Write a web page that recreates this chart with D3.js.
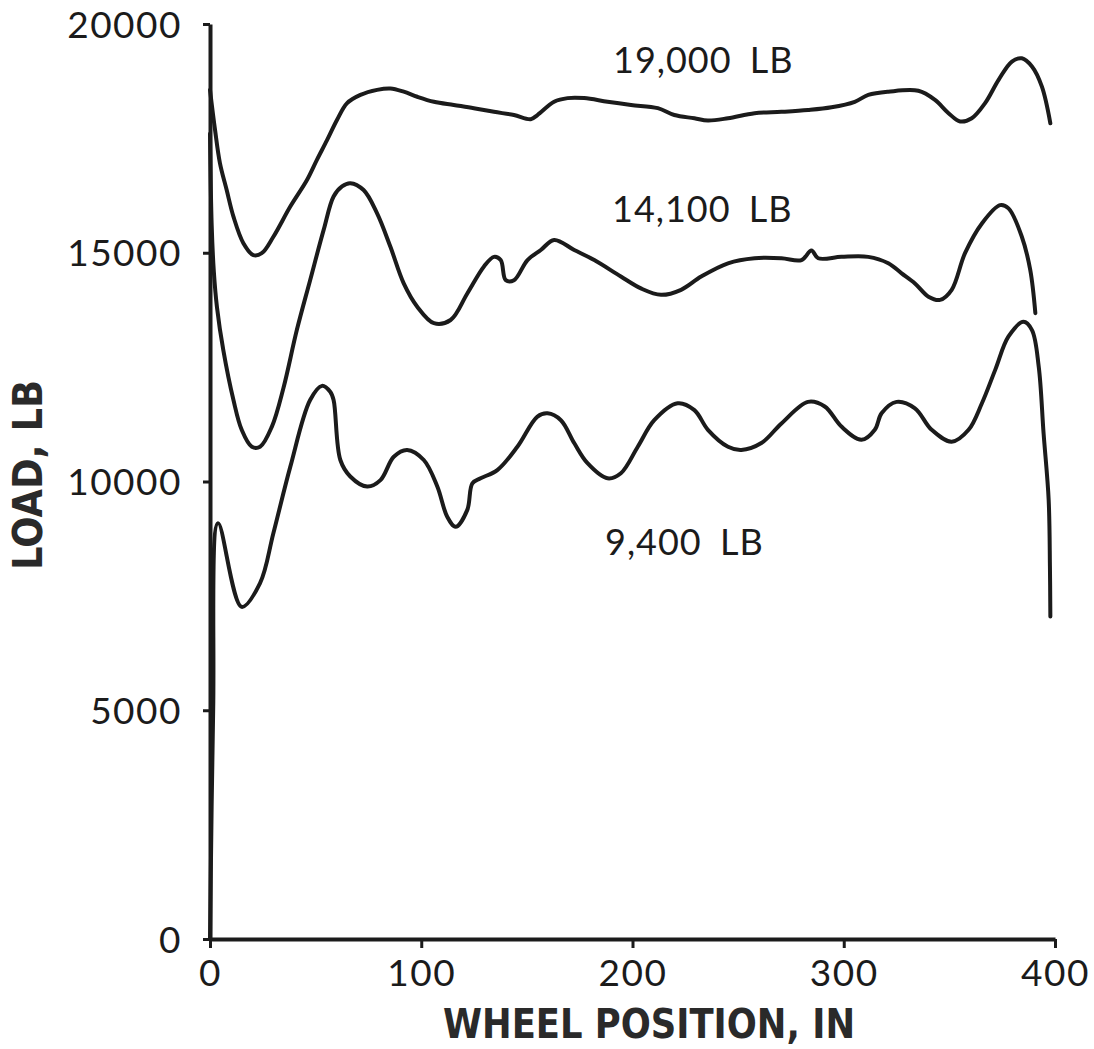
<!DOCTYPE html>
<html>
<head>
<meta charset="utf-8">
<script src="https://cdn.jsdelivr.net/npm/d3@7"></script>
<style>
    body { margin: 0; background: #fff; }
    svg { display: block; }
</style>
</head>
<body>
<div class="container"><svg></svg></div>
<script>
// Wheel positions (in) and loads (lb)
const pos19000 = [0, 2.4, 4.7, 7.9, 11.1, 15.8, 20.5, 24.5, 30, 38,
    45.9, 50.6, 55.4, 60.1, 64.9, 71.2, 79.1, 85.4, 91.7, 98.1,
    106, 115.4, 124.9, 134.4, 143.9, 151.8, 155, 162.9, 169.3, 177.1,
    188.2, 199.3, 212, 219.8, 229.3, 235.7, 245.2, 257.8, 270.5, 283.1,
    294.2, 305.2, 311.6, 321.1, 335.3, 343.2, 349.6, 355.1, 360.6, 366.9,
    373.3, 379.6, 384.3, 389.1, 393.8, 397.8];
const load19000 = [18560, 17680, 16960, 16370, 15790, 15210, 14950, 14990, 15350, 16010,
    16590, 17030, 17460, 17900, 18270, 18450, 18560, 18590, 18520, 18410,
    18300, 18230, 18160, 18080, 18010, 17920, 18010, 18300, 18380, 18380,
    18300, 18230, 18160, 18010, 17940, 17890, 17940, 18050, 18080, 18120,
    18180, 18300, 18450, 18520, 18540, 18340, 18050, 17870, 17940, 18270,
    18780, 19180, 19250, 19070, 18630, 17830];

const pos14100 = [0, 0.8, 1.8, 3.3, 6.3, 11.1, 15, 19.8, 23.7, 29.3,
    34.8, 41.1, 47.4, 53.8, 58.5, 62.5, 66.4, 72.7, 79.1, 85.4,
    91.7, 98.1, 106, 113.9, 121.8, 129.7, 134.4, 137.6, 140, 143.9,
    150.3, 156.6, 162.9, 172.4, 181.9, 194.5, 204, 213.5, 223, 232.5,
    245.2, 257.8, 270.5, 280, 284.7, 287.9, 298.9, 311.6, 321.1, 327.4,
    333.7, 340.1, 345.6, 351.1, 357.4, 365.4, 374, 378, 384.3, 388.3,
    390.7];
const load14100 = [17600, 15600, 14600, 13810, 12870, 11780, 11130, 10760, 10760, 11200,
    12050, 13310, 14400, 15500, 16230, 16450, 16520, 16370, 15860, 15130,
    14330, 13820, 13460, 13530, 14110, 14700, 14910, 14840, 14400, 14400,
    14840, 15060, 15280, 15060, 14840, 14480, 14220, 14080, 14190, 14480,
    14770, 14880, 14880, 14840, 15050, 14880, 14910, 14910, 14770, 14550,
    14330, 14040, 13970, 14190, 14990, 15640, 16040, 15970, 15350, 14620,
    13680];

const pos9400 = [0, 1.5, 3.8, 15, 23.7, 30, 38, 47.4, 53, 56.9,
    58.5, 61.7, 66.4, 74.4, 80.7, 87, 93.3, 101.2, 107.6, 112.3,
    116.3, 121.8, 124.2, 128.1, 136, 145.5, 155, 159.8, 166.1, 172.4,
    178.7, 188.2, 194.5, 202.5, 210.3, 221.4, 229.3, 235.7, 245.2, 251.5,
    261, 270.5, 283.1, 291, 298.9, 308.4, 314.7, 317.9, 325, 333.7,
    341.6, 351.1, 359.1, 365.4, 371.7, 378, 385.1, 389.1, 392.3, 394.6,
    397, 397.6, 397.8];
const load9400 = [0, 5000, 9090, 7260, 7780, 8870, 10320, 11780, 12090, 11960,
    11780, 10470, 10110, 9890, 10030, 10540, 10690, 10470, 9890, 9230,
    9010, 9380, 9960, 10070, 10250, 10760, 11420, 11490, 11340, 10840,
    10400, 10070, 10180, 10760, 11340, 11710, 11560, 11130, 10760, 10690,
    10840, 11270, 11740, 11640, 11200, 10910, 11130, 11490, 11740, 11600,
    11130, 10870, 11130, 11710, 12440, 13170, 13490, 13310, 12510, 11050,
    9600, 8140, 7050];

// Curve labels and where they sit (data units)
const seriesLabels = ["19,000 LB", "14,100 LB", "9,400 LB"];
const labelPos = [190.8, 190.3, 187];
const labelLoad = [18930, 15670, 8390];

// Tick values
const xTicks = [0, 100, 200, 300, 400];
const yTicks = [0, 5000, 10000, 15000, 20000];

//SVG dimensions
const svgWidth = 1094;
const svgHeight = 1049;

const svg = d3.select(".container svg")
    .attr("width", svgWidth)
    .attr("height", svgHeight);

//Scales
const xScale = d3.scaleLinear().domain([0, 400]).range([210, 1055]);
const yScale = d3.scaleLinear().domain([0, 20000]).range([939, 24]);

//Building the series list from the arrays
const series = [
    {pos: pos19000, load: load19000},
    {pos: pos14100, load: load14100},
    {pos: pos9400, load: load9400}
].map(s => s.pos.map((p, i) => ({x: p, y: s.load[i]})));

const ink = "#1b1b1b";
const labelFont = "Lato, 'Open Sans', sans-serif";

//x axis
const xAxis = svg.append("g")
    .attr("transform", `translate(0,${yScale(0)})`)
    .call(d3.axisBottom(xScale).tickValues(xTicks).tickSize(9).tickSizeOuter(0).tickPadding(12));

//y axis
const yAxis = svg.append("g")
    .attr("transform", `translate(${xScale(0)},0)`)
    .call(d3.axisLeft(yScale).tickValues(yTicks).tickSize(7).tickSizeOuter(0).tickPadding(21).tickFormat(d3.format("d")));

[xAxis, yAxis].forEach(g => {
    g.select(".domain").attr("stroke", ink).attr("stroke-width", 4);
    g.selectAll(".tick line").attr("stroke", ink).attr("stroke-width", 3);
    g.selectAll(".tick text")
        .attr("fill", ink)
        .style("font-family", labelFont)
        .style("font-size", "37px")
        .style("letter-spacing", "1.5px");
});

//nudging y labels so the top one stays inside the picture
yAxis.selectAll(".tick text").attr("dy", "13px");

//The load curves
const line = d3.line()
    .x(d => xScale(d.x))
    .y(d => yScale(d.y))
    .curve(d3.curveCatmullRom.alpha(0.5));

svg.selectAll("path.curve")
    .data(series)
    .enter()
    .append("path")
    .attr("class", "curve")
    .attr("d", line)
    .attr("fill", "none")
    .attr("stroke", ink)
    .attr("stroke-width", 4)
    .attr("stroke-linejoin", "round")
    .attr("stroke-linecap", "round");

//Curve labels
svg.selectAll("text.series-label")
    .data(seriesLabels)
    .enter()
    .append("text")
    .attr("class", "series-label")
    .attr("x", (d, i) => xScale(labelPos[i]))
    .attr("y", (d, i) => yScale(labelLoad[i]))
    .attr("fill", ink)
    .style("font-family", labelFont)
    .style("font-size", "36px")
    .style("letter-spacing", "1px")
    .style("word-spacing", "8px")
    .text(d => d);

//x axis title
svg.append("text")
    .attr("x", 649)
    .attr("y", 1038)
    .attr("text-anchor", "middle")
    .attr("textLength", 412)
    .attr("lengthAdjust", "spacingAndGlyphs")
    .attr("fill", "#2a2a2a")
    .style("font-family", "'DejaVu Sans', sans-serif")
    .style("font-weight", "bold")
    .style("font-size", "41px")
    .text("WHEEL POSITION, IN");

//y axis title
svg.append("text")
    .attr("transform", "translate(42,475) rotate(-90)")
    .attr("text-anchor", "middle")
    .attr("textLength", 190)
    .attr("lengthAdjust", "spacingAndGlyphs")
    .attr("fill", "#2a2a2a")
    .style("font-family", "'DejaVu Sans', sans-serif")
    .style("font-weight", "bold")
    .style("font-size", "41px")
    .text("LOAD, LB");
</script>
</body>
</html>
